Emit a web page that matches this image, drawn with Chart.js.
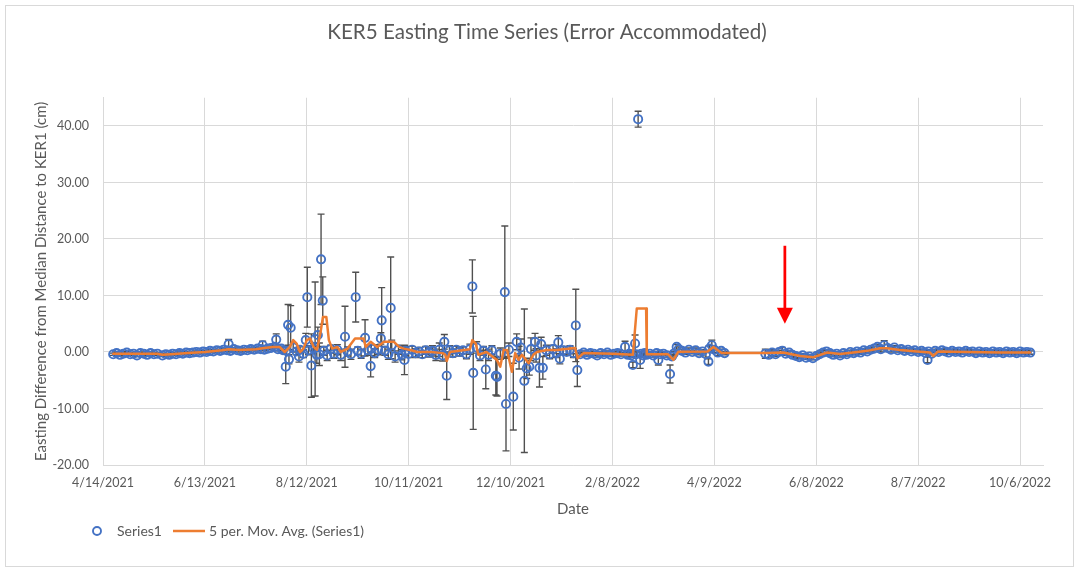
<!DOCTYPE html>
<html><head><meta charset="utf-8">
<script src="https://cdn.jsdelivr.net/npm/chart.js@4.4.1/dist/chart.umd.min.js"></script>
<style>
html,body{margin:0;padding:0;background:#fff;}
#wrap{position:relative;width:1078px;height:571px;overflow:hidden;}
#frame{position:absolute;left:5px;top:5px;width:1067px;height:560px;border:1px solid #d9d9d9;pointer-events:none;}
canvas{position:absolute;left:0;top:0;}
</style></head><body>
<div id="wrap"><canvas id="c" width="1078" height="571"></canvas><div id="frame"></div></div>
<script>
// ---- axis ticks ----
const xTickDays = [0, 60, 120, 180, 240, 300, 360, 420, 480, 540]; // days since 4/14/2021
const xTickLabels = ['4/14/2021','6/13/2021','8/12/2021','10/11/2021','12/10/2021','2/8/2022','4/9/2022','6/8/2022','8/7/2022','10/6/2022'];
const yTickValues = [-20, -10, 0, 10, 20, 30, 40];

// ---- Series1: day (since 4/14/2021), easting difference (cm), error half-length (cm) ----
const days = [
  6,8,10,12,14,16,18,20,22,24,26,28,30,32,
  35,37,39,41,43,45,47,49,51,53,55,57,59,61,63,65,67,69,71,73,74,75,77,79,81,83,85,87,89,91,93,94,95,97,99,101,102,103,105,
  106,107.6,108,109,109.5,110.5,112,114,115.4,116,
  118,119.4,120.3,121,122.7,124,124.9,125.9,126.5,127.4,
  128.4,129.4,130,132,134,136,138,140,142.5,144,
  146,148.8,150,152,154.3,156,157.6,158,160,162,
  163.6,164.1,166,168,169.4,170,172,174,176,177.5,
  178,180,182,184,186,188,190,192,194,196,
  198,200,201,202.4,204,206,208,210,212,214,
  216,217.5,218,220,222,224,225.4,227,229,231.3,
  232,234,236.6,237.3,239,241.6,243.6,245,246,248.1,
  249.5,251,252,254.4,255,257,258,259,261,263,
  265,267,268.1,269,271,273,275,277,278.4,279.3,
  281,283,285,287,289,291,293,295,297,299,301,303,305,307.4,309,310,311,312,313.3,314,315.1,316.3,317,318,319,320,322,324,326,327,328,330,332,333.9,335,336,337.8,339,341,343,345,347,349,351,353,355,356.5,357,358.5,360,362,364,366,
  390,392,394,396,398,400,402,404,406,408,
  410,412,414,416,418,420,422,424,426,428,
  430,432,434,436,438,440,442,444,446,448,
  450,452,454,456,458,460,462,464,466,468,
  470,472,474,476,478,480,482,484,485.5,486,
  488,490,492,494,496,498,500,502,504,506,
  508,510,512,514,516,518,520,522,524,526,
  528,530,532,534,536,538,540,542,544,546
];
const easting = [
  -0.4,-0.2,-0.5,-0.3,-0.1,-0.4,-0.3,-0.6,-0.2,-0.3,-0.5,-0.2,-0.4,-0.3,
  -0.6,-0.4,-0.5,-0.3,-0.4,-0.2,-0.3,-0.1,-0.2,-0.1,0.0,-0.1,0.1,0.0,0.2,0.1,0.3,0.2,0.4,0.3,1.4,0.2,0.5,0.3,0.2,0.4,0.3,0.5,0.4,0.6,0.5,1.2,0.4,0.6,0.7,0.9,2.2,0.5,0.6,
  0.3,-2.6,0.2,4.8,-1.3,4.3,0.8,0.1,-0.8,0.4,
  -0.3,2.1,9.7,0.3,-2.4,0.6,2.3,-0.5,3.0,-0.4,
  16.4,9.1,0.2,-0.6,0.5,-0.3,0.4,-0.5,2.7,0.1,
  -0.4,9.7,0.2,-0.3,2.5,0.3,-2.5,0.6,-0.2,0.4,
  2.4,5.6,0.2,-0.4,7.8,1.2,-0.8,0.4,-0.5,-1.4,
  0.2,-0.3,0.4,-0.2,0.1,-0.4,0.3,-0.1,0.2,-0.5,
  0.4,-0.6,1.8,-4.2,0.3,-0.2,0.4,0.0,0.3,-0.4,
  0.5,11.6,-3.7,0.8,-0.6,0.2,-3.1,-0.5,0.3,-4.2,
  -4.4,-0.3,10.6,-9.2,0.4,-7.9,1.8,-1.0,0.8,-5.1,
  -2.9,-2.6,0.5,1.8,-0.6,-2.8,1.4,-2.8,0.3,-0.4,
  0.5,-0.2,1.7,-1.2,0.3,0.0,0.4,-0.2,4.7,-3.2,
  -0.4,-0.1,-0.5,-0.2,-0.3,-0.6,-0.2,-0.4,-0.1,-0.5,-0.3,-0.2,-0.4,0.9,-0.5,-0.3,-0.6,-2.3,1.5,-0.4,41.2,-1.4,-0.3,-0.6,-0.2,-0.5,-0.3,-0.6,-0.2,-1.4,-0.4,-0.3,-0.6,-3.9,-0.8,-0.3,0.9,0.5,0.2,-0.1,0.4,0.0,0.3,-0.2,0.1,-0.4,-1.7,0.6,1.2,0.4,-0.1,0.2,-0.2,
  -0.3,-0.5,-0.1,-0.4,0.0,0.2,-0.3,-0.1,-0.5,-0.7,
  -0.9,-0.6,-1.0,-0.8,-1.1,-0.7,-0.4,-0.1,0.1,-0.2,
  -0.5,-0.3,-0.6,-0.2,-0.4,0.0,-0.2,0.1,-0.1,0.3,
  0.1,0.4,0.6,0.9,0.5,1.2,0.7,0.4,0.8,0.3,
  0.5,0.2,0.4,0.1,0.3,0.0,0.2,-0.1,-1.4,0.1,
  -0.3,0.2,0.0,0.3,0.1,-0.1,0.2,0.0,0.1,-0.1,
  0.2,0.0,0.1,-0.2,0.1,-0.1,0.0,-0.2,0.1,-0.1,
  0.0,-0.2,0.1,-0.1,0.0,-0.2,0.1,-0.1,0.0,-0.1
];
const errHalf = [
  0.2,0.2,0.2,0.2,0.2,0.2,0.2,0.2,0.2,0.2,0.2,0.2,0.2,0.2,
  0.2,0.2,0.2,0.2,0.2,0.2,0.2,0.2,0.2,0.2,0.2,0.2,0.2,0.2,0.2,0.2,0.2,0.2,0.2,0.2,0.8,0.2,0.2,0.2,0.2,0.2,0.2,0.2,0.2,0.2,0.2,0.7,0.2,0.2,0.2,0.2,1.0,0.3,0.3,
  0.5,3.0,0.6,3.6,0.8,3.9,0.8,0.6,1.0,0.5,
  0.7,1.2,5.3,0.8,5.6,0.9,10.1,1.5,1.4,2.0,
  8.0,4.2,0.8,0.9,0.7,0.8,0.9,1.0,5.4,0.8,
  0.9,4.4,0.7,0.8,3.2,0.9,1.9,0.7,0.8,0.9,
  1.0,5.8,0.8,0.9,9.0,0.9,1.0,0.8,0.9,2.6,
  0.8,0.7,0.6,0.8,0.7,0.6,0.7,0.8,0.9,1.0,
  1.2,1.0,1.3,4.2,0.8,0.7,0.6,0.7,0.6,0.8,
  0.9,4.7,10.0,1.0,0.9,0.8,3.4,1.0,0.8,3.4,
  3.4,1.0,11.7,8.3,1.2,5.9,1.4,2.0,1.5,12.7,
  1.8,1.5,2.0,1.5,1.2,3.4,1.2,2.0,0.9,0.8,
  0.7,0.8,1.2,0.9,0.7,0.6,0.7,0.8,6.4,2.9,
  0.3,0.3,0.3,0.3,0.3,0.3,0.3,0.3,0.3,0.3,0.3,0.3,0.3,1.0,0.4,0.4,0.4,0.5,1.5,0.4,1.4,1.5,0.4,0.3,0.3,0.3,0.3,0.3,0.3,0.9,0.3,0.3,0.3,1.6,0.4,0.4,0.4,0.4,0.3,0.3,0.3,0.3,0.4,0.3,0.3,0.5,0.5,0.5,0.9,0.5,0.5,0.3,0.3,
  0.8,0.6,0.5,0.4,0.3,0.6,0.3,0.3,0.3,0.3,
  0.3,0.3,0.3,0.3,0.3,0.3,0.3,0.3,0.3,0.3,
  0.3,0.3,0.3,0.3,0.3,0.3,0.3,0.3,0.3,0.3,
  0.3,0.3,0.3,0.4,0.5,0.8,0.6,0.4,0.3,0.3,
  0.3,0.3,0.3,0.3,0.3,0.3,0.3,0.3,0.5,0.3,
  0.3,0.3,0.3,0.3,0.3,0.3,0.3,0.3,0.3,0.3,
  0.3,0.3,0.3,0.3,0.3,0.3,0.3,0.3,0.3,0.3,
  0.3,0.3,0.3,0.3,0.3,0.3,0.3,0.3,0.3,0.3
];

// ---- 5 per. Mov. Avg. (Series1), read as its own polyline ----
const maDays = [6,32,35,40,50,60,70,74,80,90,95,100,104,107,110,112,114,116,118,120,122,124,126,128,129.5,131.5,133,135,138,140,144,148.4,153.4,154.7,157.6,161.5,165.4,171.3,174.3,177.2,181,185,193,200,201.5,202.4,204.3,216,217.5,219.5,221,225.8,231.9,233.9,235.9,237.9,240.8,242.7,244.7,246.7,250.6,253.4,255.5,261.4,267.3,278,279.5,283,300,312,314.3,319.8,320.2,332.7,335.9,338.8,356,359.4,364.3,390,400.5,410.5,418,426.4,434,441.7,450,457.6,461.7,469.4,479.4,487,488.8,491.8,508.8,528.3,546];
const maValues = [-0.3,-0.3,-0.5,-0.4,-0.2,0.0,0.3,0.5,0.35,0.5,0.7,0.9,0.9,0.0,0.9,2.1,1.5,0.0,0.6,2.1,2.4,0.9,0.4,3.3,6.2,6.2,2.1,0.6,0.9,0.0,0.6,2.4,2.4,0.9,1.8,0.9,1.8,1.8,0.9,0.6,0.35,0.0,0.0,-0.2,-0.5,-1.6,0.0,0.5,2.1,1.5,-0.5,0.0,-1.4,-2.6,0.35,0.35,-3.5,-0.2,-1.4,-0.5,-2.0,-0.5,0.0,0.35,0.35,0.7,-1.1,-0.2,-0.3,-0.5,7.7,7.7,-0.4,-0.4,-1.4,0.05,0.1,0.9,-0.2,-0.2,-0.1,-0.7,-0.95,-0.1,-0.35,-0.1,0.2,0.65,0.65,0.35,0.1,-0.1,-0.7,0.1,0.0,-0.1,-0.1];

// ---- annotation arrow (data units) ----
const arrowDay = 401.5, arrowTopValue = 18.8, arrowTipValue = 5.0;

const TEXT = '#595959', GRID = '#d9d9d9', BLUE = '#4472C4', ORANGE = '#ED7D31';
const FONT = 'Lato';

function makeMarker(kind) {
  const c = document.createElement('canvas');
  if (kind === 'circle') {
    c.width = 12; c.height = 12;
    const g = c.getContext('2d');
    g.strokeStyle = BLUE; g.lineWidth = 1.9;
    g.beginPath(); g.arc(6, 6, 4, 0, Math.PI * 2); g.stroke();
  } else {
    c.width = 32; c.height = 4;
    const g = c.getContext('2d');
    g.strokeStyle = ORANGE; g.lineWidth = 2.5;
    g.beginPath(); g.moveTo(0, 2); g.lineTo(32, 2); g.stroke();
  }
  return c;
}

const errorBars = {
  id: 'errorBars',
  beforeDatasetsDraw(chart) {
    const {ctx, chartArea: a, scales: {x, y}} = chart;
    ctx.save();
    ctx.beginPath(); ctx.rect(a.left, a.top, a.right - a.left, a.bottom - a.top); ctx.clip();
    ctx.strokeStyle = '#505050'; ctx.lineWidth = 1.4;
    ctx.beginPath();
    for (let i = 0; i < days.length; i++) {
      const px = x.getPixelForValue(days[i]);
      const t = y.getPixelForValue(easting[i] + errHalf[i]);
      const b = y.getPixelForValue(easting[i] - errHalf[i]);
      ctx.moveTo(px, t); ctx.lineTo(px, b);
      ctx.moveTo(px - 3.5, t); ctx.lineTo(px + 3.5, t);
      ctx.moveTo(px - 3.5, b); ctx.lineTo(px + 3.5, b);
    }
    ctx.stroke();
    ctx.restore();
  }
};

const arrow = {
  id: 'arrow',
  afterDatasetsDraw(chart) {
    const {ctx, scales: {x, y}} = chart;
    const px = x.getPixelForValue(arrowDay);
    const top = y.getPixelForValue(arrowTopValue);
    const tip = y.getPixelForValue(arrowTipValue);
    ctx.save();
    ctx.strokeStyle = '#FF0000'; ctx.fillStyle = '#FF0000'; ctx.lineWidth = 2.75;
    ctx.beginPath(); ctx.moveTo(px, top); ctx.lineTo(px, tip - 14); ctx.stroke();
    ctx.beginPath(); ctx.moveTo(px - 8, tip - 16); ctx.lineTo(px + 8, tip - 16); ctx.lineTo(px, tip); ctx.closePath(); ctx.fill();
    ctx.restore();
  }
};

const placeBlocks = {
  id: 'placeBlocks',
  afterLayout(chart) {
    const t = chart.titleBlock;
    if (t) { t.left = 16; t.right = 1078; }
    const l = chart.legend;
    if (l) {
      const w = l.right - l.left, h = l.bottom - l.top;
      l.left = 70; l.right = 70 + w;
      l.top = 510; l.bottom = 510 + Math.max(h, 40);
    }
  }
};

function build() {
  const scatterData = days.map((d, i) => ({x: d, y: easting[i]}));
  const maData = maDays.map((d, i) => ({x: d, y: maValues[i]}));
  const circleMarker = makeMarker('circle');
  const lineMarker = makeMarker('line');

  new Chart(document.getElementById('c'), {
    type: 'scatter',
    data: {
      datasets: [
        {
          label: 'Series1', data: scatterData, order: 2,
          pointStyle: 'circle', pointRadius: 4.1, borderWidth: 1.9,
          borderColor: BLUE, backgroundColor: 'rgba(0,0,0,0)', showLine: false
        },
        {
          type: 'line', label: '5 per. Mov. Avg. (Series1)', data: maData, order: 1,
          borderColor: ORANGE, borderWidth: 2.5, pointRadius: 0, tension: 0,
          borderJoinStyle: 'round', borderCapStyle: 'round', fill: false
        }
      ]
    },
    options: {
      responsive: false, animation: false, devicePixelRatio: 1,
      layout: {padding: {left: 30, right: 35, top: 12, bottom: 13}},
      plugins: {
        title: {
          display: true, text: 'KER5 Easting Time Series (Error Accommodated)',
          color: TEXT, font: {family: FONT, size: 20.6, weight: 'normal'},
          padding: {top: 8, bottom: 53}
        },
        legend: {
          position: 'bottom', align: 'start',
          labels: {
            usePointStyle: true, pointStyleWidth: 26, padding: 14,
            color: TEXT, font: {family: FONT, size: 14},
            generateLabels: (chart) => chart.data.datasets.map((ds, i) => ({
              text: ds.label, datasetIndex: i, hidden: false,
              pointStyle: i === 0 ? circleMarker : lineMarker,
              fillStyle: 'rgba(0,0,0,0)', strokeStyle: ds.borderColor, lineWidth: 0,
              fontColor: TEXT
            }))
          }
        },
        tooltip: {enabled: false}
      },
      scales: {
        x: {
          type: 'linear', min: 0, max: 553.5,
          afterBuildTicks: (s) => { s.ticks = xTickDays.map(v => ({value: v})); },
          afterFit: (s) => { s.height = 55; },
          ticks: {
            autoSkip: false, maxRotation: 0, padding: 10, color: TEXT,
            font: {family: FONT, size: 12.5},
            callback: (v) => { const i = xTickDays.indexOf(v); return i >= 0 ? xTickLabels[i] : ''; }
          },
          grid: {color: GRID, lineWidth: 1, drawTicks: false},
          border: {color: GRID, width: 1},
          title: {display: true, text: 'Date', color: TEXT, font: {family: FONT, size: 15}, padding: {top: 0, bottom: 2}}
        },
        y: {
          type: 'linear', min: -20, max: 45,
          afterBuildTicks: (s) => { s.ticks = yTickValues.map(v => ({value: v})); },
          afterFit: (s) => { s.width = 73; },
          ticks: {
            padding: 14, color: TEXT, font: {family: FONT, size: 12.5},
            callback: (v) => Number(v).toFixed(2)
          },
          grid: {color: GRID, lineWidth: 1, drawTicks: false},
          border: {color: GRID, width: 1},
          title: {
            display: true, text: 'Easting Difference from Median Distance to KER1 (cm)',
            color: TEXT, font: {family: FONT, size: 15}, padding: {top: 2, bottom: 0}
          }
        }
      }
    },
    plugins: [errorBars, arrow, placeBlocks]
  });
}

if (document.fonts && document.fonts.load) {
  Promise.all([document.fonts.load('14px Lato'), document.fonts.load('20px Lato')]).then(build, build);
} else { build(); }
</script>
</body></html>
